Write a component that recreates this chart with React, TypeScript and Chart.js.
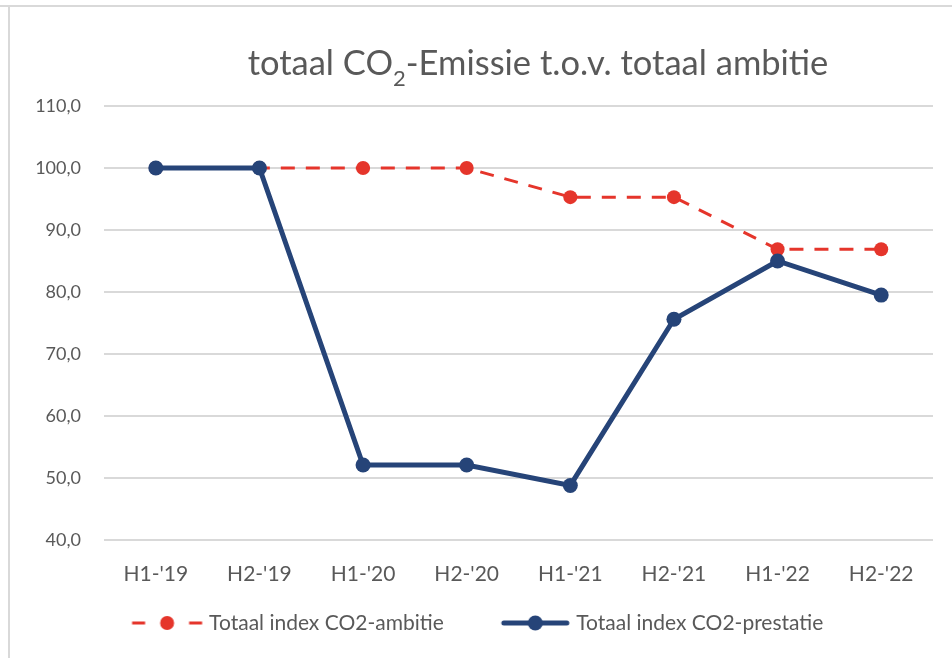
import React, { useEffect, useRef } from "react";
import { Chart, registerables } from "chart.js";

Chart.register(...registerables);

const categories = ["H1-'19", "H2-'19", "H1-'20", "H2-'20", "H1-'21", "H2-'21", "H1-'22", "H2-'22"];
const ambitieValues = [100, 100, 100, 100, 95.3, 95.3, 86.9, 86.9];
const prestatieValues = [100, 100, 52.1, 52.1, 48.8, 75.6, 85.0, 79.5];
const seriesNames = ["Totaal index CO2-ambitie", "Totaal index CO2-prestatie"];
const titleParts = ["totaal CO", "2", "-Emissie t.o.v. totaal ambitie"];
const yMin = 40;
const yMax = 110;
const yStep = 10;

const FONT = "Lato";
const TEXT = "#595959";
const RED = "#E5352B";
const BLUE = "#264478";
const SHIFT = 13; // canvas is shifted left by this many px
const BOX_W = 102;
const IMG_W = 116;

function makeSymbol(color: string, dashed: boolean, lineWidth: number, radius: number, start: number, len: number) {
  const c = document.createElement("canvas");
  c.width = IMG_W;
  c.height = 18;
  const ctx = c.getContext("2d")!;
  ctx.strokeStyle = color;
  ctx.fillStyle = color;
  ctx.lineWidth = lineWidth;
  const y = 9;
  if (dashed) {
    ctx.beginPath();
    ctx.moveTo(start, y);
    ctx.lineTo(start + 13, y);
    ctx.moveTo(start + len - 13, y);
    ctx.lineTo(start + len, y);
    ctx.stroke();
  } else {
    ctx.lineCap = "round";
    ctx.beginPath();
    ctx.moveTo(start + lineWidth / 2, y);
    ctx.lineTo(start + len - lineWidth / 2, y);
    ctx.stroke();
  }
  ctx.beginPath();
  ctx.arc(start + len / 2, y, radius, 0, Math.PI * 2);
  ctx.fill();
  return c;
}

const titlePlugin = {
  id: "subTitle",
  afterDraw(chart: any) {
    const ctx = chart.ctx;
    ctx.save();
    const big = `34.5px ${FONT}`;
    const small = `22px ${FONT}`;
    ctx.font = big;
    const w0 = ctx.measureText(titleParts[0]).width;
    const w2 = ctx.measureText(titleParts[2]).width;
    ctx.font = small;
    const w1 = ctx.measureText(titleParts[1]).width;
    const total = w0 + w1 + w2;
    let x = 538 + SHIFT - total / 2;
    const y = 75;
    ctx.fillStyle = TEXT;
    ctx.textAlign = "left";
    ctx.textBaseline = "alphabetic";
    ctx.font = big;
    ctx.fillText(titleParts[0], x, y);
    x += w0;
    ctx.font = small;
    ctx.fillText(titleParts[1], x, y + 11);
    x += w1;
    ctx.font = big;
    ctx.fillText(titleParts[2], x, y);
    ctx.restore();
  },
};

export default function App() {
  const ref = useRef<HTMLCanvasElement>(null);

  useEffect(() => {
    const canvas = ref.current!;
    const symbols = [makeSymbol(RED, true, 3, 7, 42.5, 70), makeSymbol(BLUE, false, 5, 7.5, 44.5, 68)];
    const chart = new Chart(canvas, {
      type: "line",
      data: {
        labels: categories,
        datasets: [
          {
            label: seriesNames[0],
            data: ambitieValues,
            borderColor: RED,
            backgroundColor: RED,
            borderWidth: 3,
            borderDash: [14, 11],
            pointRadius: 7,
            pointBorderWidth: 0,
            pointBackgroundColor: RED,
            tension: 0,
            order: 1,
          },
          {
            label: seriesNames[1],
            data: prestatieValues,
            borderColor: BLUE,
            backgroundColor: BLUE,
            borderWidth: 5,
            pointRadius: 7.5,
            pointBorderWidth: 0,
            pointBackgroundColor: BLUE,
            tension: 0,
            order: 0,
          },
        ],
      },
      options: {
        animation: false,
        responsive: false,
        maintainAspectRatio: false,
        layout: { padding: { left: 0, right: 19, top: 106, bottom: 14.5 } },
        scales: {
          x: {
            offset: true,
            grid: { display: false },
            border: { display: false },
            ticks: {
              color: TEXT,
              font: { family: FONT, size: 21 },
              padding: 14,
              maxRotation: 0,
              autoSkip: false,
            },
            afterFit(scale: any) {
              scale.height = 52.5;
            },
          },
          y: {
            min: yMin,
            max: yMax,
            grid: { color: "#D9D9D9", lineWidth: 2, drawTicks: false },
            border: { display: false },
            ticks: {
              stepSize: yStep,
              color: TEXT,
              font: { family: FONT, size: 18 },
              padding: 23,
              callback: (v: any) => Number(v).toFixed(1).replace(".", ","),
            },
            afterFit(scale: any) {
              scale.width = 104 + SHIFT;
            },
          },
        },
        plugins: {
          title: { display: false },
          tooltip: { enabled: false },
          legend: {
            display: true,
            position: "bottom",
            labels: {
              usePointStyle: true,
              pointStyleWidth: BOX_W,
              padding: 20,
              color: TEXT,
              font: { family: FONT, size: 21 },
              sort: (a: any, b: any) => a.datasetIndex - b.datasetIndex,
              generateLabels: (ch: any) =>
                ch.data.datasets.map((ds: any, i: number) => ({
                  text: ds.label,
                  datasetIndex: i,
                  pointStyle: symbols[i],
                  fillStyle: ds.borderColor,
                  strokeStyle: ds.borderColor,
                  lineWidth: 0,
                  hidden: false,
                  fontColor: TEXT,
                })),
            },
          },
        },
      },
      plugins: [titlePlugin],
    } as any);
    return () => chart.destroy();
  }, []);

  return (
    <div style={{ position: "fixed", left: 0, top: 0, width: 952, height: 658, background: "#fff", overflow: "hidden" }}>
      <div style={{ position: "absolute", left: 0, top: 5, width: 952, height: 2, background: "#D9D9D9" }} />
      <div style={{ position: "absolute", left: 8, top: 6, width: 2, height: 660, background: "#D9D9D9" }} />
      <canvas
        ref={ref}
        width={952 + SHIFT}
        height={658}
        style={{ position: "absolute", left: -SHIFT, top: 0, display: "block" }}
      />
    </div>
  );
}
